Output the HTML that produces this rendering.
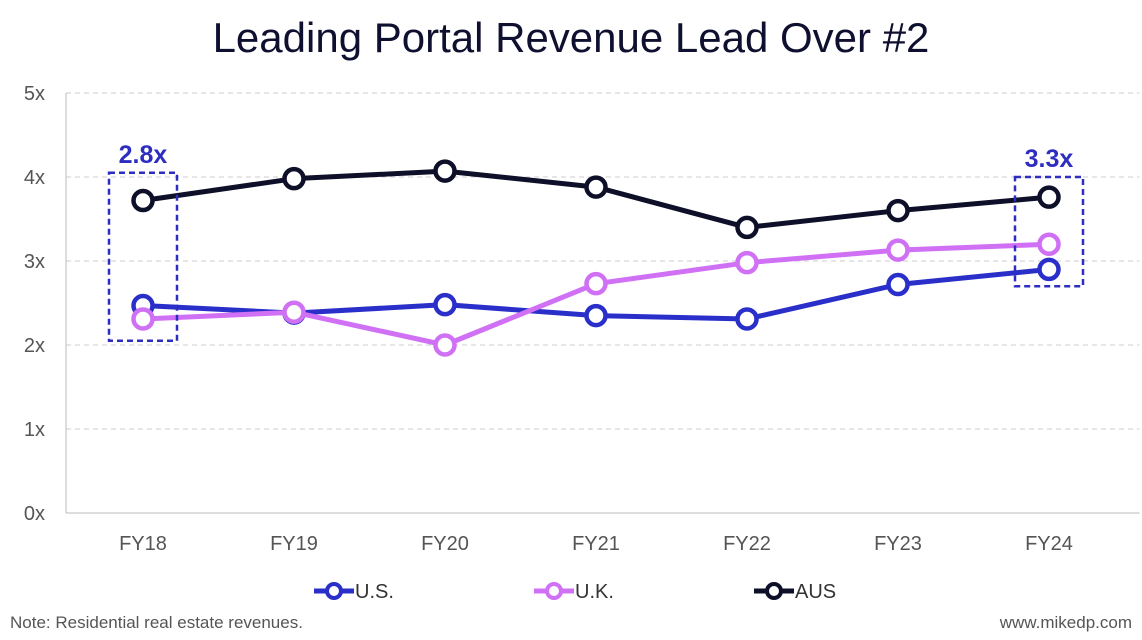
<!DOCTYPE html>
<html><head><meta charset="utf-8"><style>
html,body{margin:0;padding:0;background:#fff;}
svg{display:block;font-family:"Liberation Sans",sans-serif;}
</style></head><body>
<svg id="chart" width="1142" height="640">
<text x="571" y="52" text-anchor="middle" font-size="42" fill="#0f1030">Leading Portal Revenue Lead Over #2</text>
<g id="grid"></g><g id="axes"></g><g id="series"></g><g id="annot"></g><g id="legend"></g>
<text x="10" y="628" font-size="17" fill="#555">Note: Residential real estate revenues.</text>
<text x="1132" y="628" text-anchor="end" font-size="17" fill="#555">www.mikedp.com</text>
</svg>
<script>
const categories=["FY18","FY19","FY20","FY21","FY22","FY23","FY24"];
const usValues=[2.47,2.38,2.48,2.35,2.31,2.72,2.90];
const ukValues=[2.31,2.39,2.00,2.73,2.98,3.13,3.20];
const ausValues=[3.72,3.98,4.07,3.88,3.40,3.60,3.76];
const yTicks=[0,1,2,3,4,5];
const yTickLabels=["0x","1x","2x","3x","4x","5x"];
const annotations=[{idx:0,label:"2.8x",lo:2.05,hi:4.05},{idx:6,label:"3.3x",lo:2.7,hi:4.0}];
const NS="http://www.w3.org/2000/svg";
const L=67.5,R=1124.5,T=93,B=513;
const x=i=>L+(R-L)/categories.length*(i+0.5);
const y=v=>B-(B-T)*v/5;
function mk(tag,attrs,parent){const e=document.createElementNS(NS,tag);for(const k in attrs)e.setAttribute(k,attrs[k]);parent.appendChild(e);return e;}
const grid=document.getElementById('grid'),axes=document.getElementById('axes');
yTicks.forEach((t,i)=>{
  if(t>0){const g=mk('line',{x1:66,x2:R+15,y1:y(t),y2:y(t),stroke:"#ccc","stroke-dasharray":"5,4","stroke-width":1},grid);
  
  }
  const tx=mk('text',{x:45,y:y(t)+7,"text-anchor":"end","font-size":20,fill:"#555"},axes);tx.textContent=yTickLabels[i];
  
  
});
const ax=mk('line',{x1:66,x2:66,y1:T,y2:B,stroke:"#bbb"},axes);


const bx=mk('line',{x1:66,x2:R+15,y1:B,y2:B,stroke:"#bbb"},axes);


categories.forEach((c,i)=>{const t=mk('text',{x:x(i),y:550,"text-anchor":"middle","font-size":20,fill:"#555"},axes);t.textContent=c;
  
  });
const seriesG=document.getElementById('series');
const series=[["us",usValues,"#2b2fc9"],["uk",ukValues,"#d070f5"],["aus",ausValues,"#0e0f28"]];
series.forEach(([n,vals,col])=>{
  const p=mk('polyline',{points:vals.map((v,i)=>x(i)+","+y(v)).join(" "),fill:"none",stroke:col,"stroke-width":5,"stroke-linejoin":"round"},seriesG);
  
  
  vals.forEach((v,i)=>{const c=mk('circle',{cx:x(i),cy:y(v),r:9.5,fill:"#fff",stroke:col,"stroke-width":4.5},seriesG);
    
    });
});
const an=document.getElementById('annot');
annotations.forEach(a=>{
  const r=mk('rect',{x:x(a.idx)-34,y:y(a.hi),width:68,height:y(a.lo)-y(a.hi),fill:"none",stroke:"#2d2dc0","stroke-width":2.5,"stroke-dasharray":"6,4"},an);
  
  
  const t=mk('text',{x:x(a.idx),y:y(a.hi)-10,"text-anchor":"middle","font-size":25,"font-weight":"bold",fill:"#2d2dc0"},an);t.textContent=a.label;
  
  
});
const lg=document.getElementById('legend');
[["U.S.","#2b2fc9",314],["U.K.","#d070f5",534],["AUS","#0e0f28",754]].forEach(([lab,col,lx])=>{
  const l=mk('line',{x1:lx,x2:lx+40,y1:591,y2:591,stroke:col,"stroke-width":5},lg);
  
  
  const c=mk('circle',{cx:lx+20,cy:591,r:7,fill:"#fff",stroke:col,"stroke-width":4},lg);
  
  
  const t=mk('text',{x:lx+41,y:598,"font-size":20,fill:"#333"},lg);t.textContent=lab;
  
  
});
</script>
</body></html>
